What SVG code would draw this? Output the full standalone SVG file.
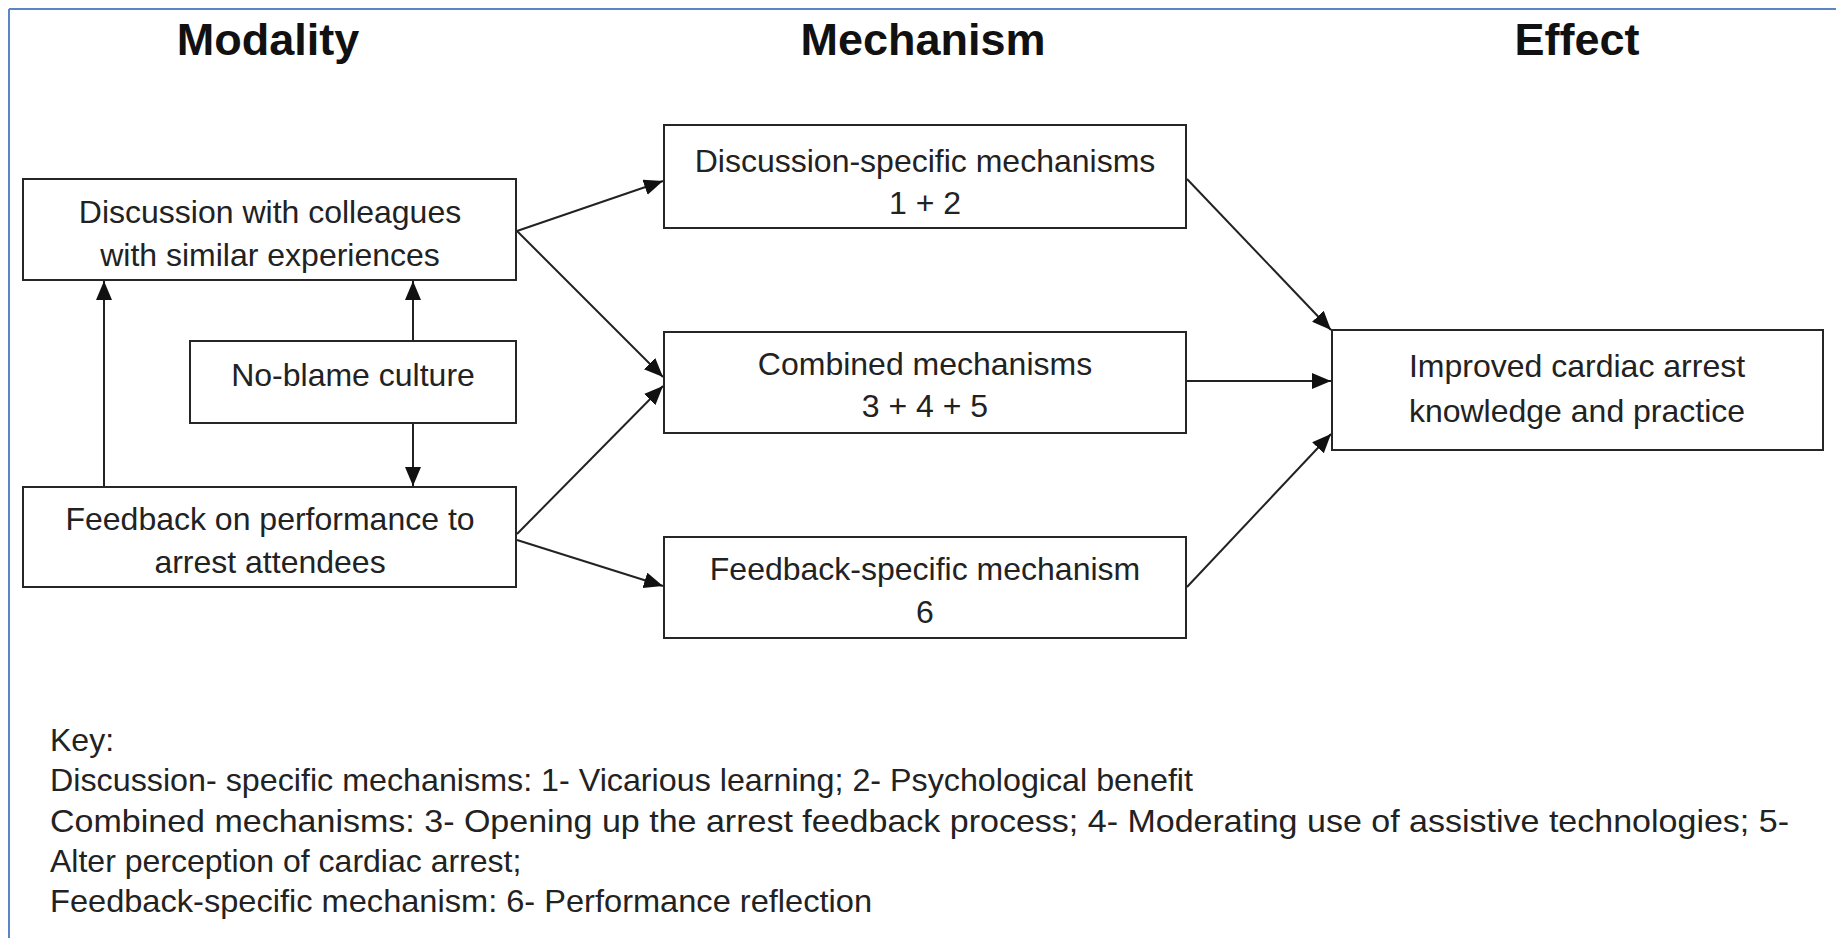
<svg xmlns="http://www.w3.org/2000/svg" width="1836" height="938" viewBox="0 0 1836 938">
<style>
.box{fill:#fff;stroke:#262626;stroke-width:2}
.t{font-family:"Liberation Sans",Arial,sans-serif;font-size:32px;fill:#222;text-anchor:middle}
.h{font-family:"Liberation Sans",Arial,sans-serif;font-size:45px;font-weight:bold;fill:#111;text-anchor:middle}
.k{font-family:"Liberation Sans",Arial,sans-serif;font-size:32px;fill:#222}
.c{fill:none;stroke:#222;stroke-width:2;marker-end:url(#ah)}
</style>
<defs>
<marker id="ah" markerUnits="userSpaceOnUse" markerWidth="20" markerHeight="18" refX="19" refY="8" orient="auto">
<path d="M0,0 L19,8 L0,16 z" fill="#111"/>
</marker>
</defs>
<rect width="1836" height="938" fill="#fff"/>
<g id="frame">
<line x1="9" y1="9" x2="1836" y2="9" stroke="#5b86c6" stroke-width="2"/>
<line x1="9" y1="9" x2="9" y2="938" stroke="#5b86c6" stroke-width="2"/>
</g>
<g id="headers">
<text class="h" x="268" y="55">Modality</text>
<text class="h" x="923" y="55">Mechanism</text>
<text class="h" x="1577" y="55">Effect</text>
</g>
<g id="connectors">
<line class="c" x1="104" y1="487" x2="104" y2="281"/>
<line class="c" x1="413" y1="341" x2="413" y2="281"/>
<line class="c" x1="413" y1="423" x2="413" y2="486"/>
<line class="c" x1="517" y1="231" x2="663" y2="181"/>
<line class="c" x1="517" y1="231" x2="663" y2="377"/>
<line class="c" x1="517" y1="534" x2="663" y2="386"/>
<line class="c" x1="517" y1="540" x2="663" y2="586"/>
<line class="c" x1="1187" y1="179" x2="1331" y2="330"/>
<line class="c" x1="1187" y1="381" x2="1331" y2="381"/>
<line class="c" x1="1187" y1="587" x2="1331" y2="434"/>
</g>
<g id="n-discussion">
<rect class="box" x="23" y="179" width="493" height="101"/>
<text class="t" x="270" y="223">Discussion with colleagues</text>
<text class="t" x="270" y="266">with similar experiences</text>
</g>
<g id="n-noblame">
<rect class="box" x="190" y="341" width="326" height="82"/>
<text class="t" x="353" y="386">No-blame culture</text>
</g>
<g id="n-feedback">
<rect class="box" x="23" y="487" width="493" height="100"/>
<text class="t" x="270" y="530">Feedback on performance to</text>
<text class="t" x="270" y="573">arrest attendees</text>
</g>
<g id="n-mechA">
<rect class="box" x="664" y="125" width="522" height="103"/>
<text class="t" x="925" y="172">Discussion-specific mechanisms</text>
<text class="t" x="925" y="214">1 + 2</text>
</g>
<g id="n-mechB">
<rect class="box" x="664" y="332" width="522" height="101"/>
<text class="t" x="925" y="375">Combined mechanisms</text>
<text class="t" x="925" y="417">3 + 4 + 5</text>
</g>
<g id="n-mechC">
<rect class="box" x="664" y="537" width="522" height="101"/>
<text class="t" x="925" y="580">Feedback-specific mechanism</text>
<text class="t" x="925" y="623">6</text>
</g>
<g id="n-effect">
<rect class="box" x="1332" y="330" width="491" height="120"/>
<text class="t" x="1577" y="377">Improved cardiac arrest</text>
<text class="t" x="1577" y="422">knowledge and practice</text>
</g>
<g id="key">
<text class="k" x="50" y="751">Key:</text>
<text class="k" x="50" y="791" textLength="1143" lengthAdjust="spacingAndGlyphs">Discussion- specific mechanisms: 1- Vicarious learning; 2- Psychological benefit</text>
<text class="k" x="50" y="832" textLength="1739" lengthAdjust="spacingAndGlyphs">Combined mechanisms: 3- Opening up the arrest feedback process; 4- Moderating use of assistive technologies; 5-</text>
<text class="k" x="50" y="872">Alter perception of cardiac arrest;</text>
<text class="k" x="50" y="912" textLength="822" lengthAdjust="spacingAndGlyphs">Feedback-specific mechanism: 6- Performance reflection</text>
</g>
</svg>
